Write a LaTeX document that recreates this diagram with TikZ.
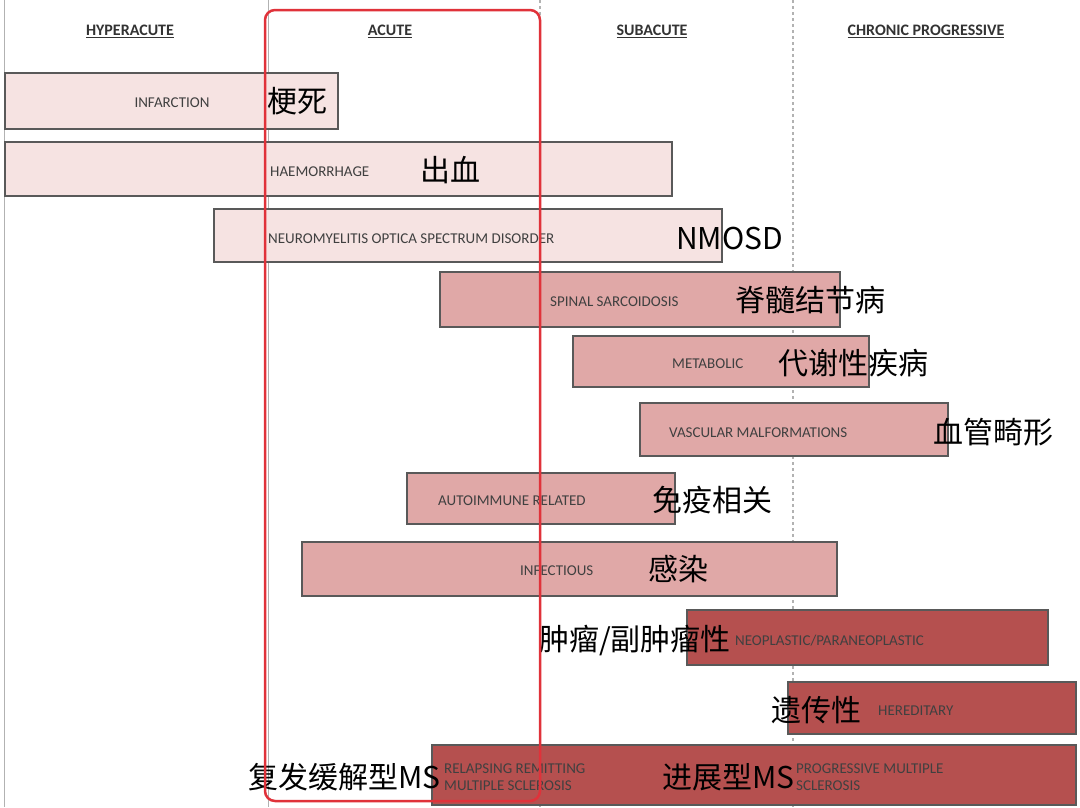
\documentclass[tikz,border=0pt]{standalone}
\usepackage{fontspec}
\setmainfont{Carlito}
\newfontfamily\cjk{Noto Sans CJK SC}
\definecolor{palebar}{HTML}{F6E3E2}
\definecolor{midbar}{HTML}{E0A8A7}
\definecolor{darkbar}{HTML}{B5504F}
\definecolor{framered}{HTML}{E0323A}

\begin{document}
\begin{tikzpicture}[x=1pt, y=-1pt]
    % --- DEFINE STYLES ---
    \tikzset{
        bar/.style={draw=black!65, line width=1.1pt},
        pale/.style={bar, fill=palebar},
        mid/.style={bar, fill=midbar},
        dark/.style={bar, fill=darkbar},
        eng/.style={font=\fontsize{15}{17}\selectfont, text=black!75, inner sep=0pt},
        zh/.style={font=\cjk\fontsize{30}{32}\selectfont, inner sep=0pt},
        phase/.style={font=\bfseries\fontsize{16}{18}\selectfont, text=black!80, inner sep=0pt}
    }
    \useasboundingbox[fill=white] (0,0) rectangle (1080,807);

    % Phase dividers
    \draw[gray!60, line width=1pt] (4,0) -- (4,807);
    \draw[gray!60, line width=1pt] (268,0) -- (268,807);
    \draw[gray!60, line width=1.5pt, dashed] (540,0) -- (540,807);
    \draw[gray!60, line width=1.5pt, dashed] (793,0) -- (793,807);

    % Phase headings
    \node[phase] (hyper) at (130,31) {\underline{HYPERACUTE}};
    \node[phase] (acute) at (390,31) {\underline{ACUTE}};
    \node[phase] (subac) at (652,31) {\underline{SUBACUTE}};
    \node[phase] (chron) at (926,31) {\underline{CHRONIC PROGRESSIVE}};

    % --- BARS ---
    \draw[pale] (5,73) rectangle (338,129);
    \node[eng] (infarct) at (172,103) {INFARCTION};
    \node[zh, anchor=west] (infarctzh) at (267,101) {梗死};

    \draw[pale] (5,142) rectangle (672,196);
    \node[eng, anchor=west] (haem) at (270,172) {HAEMORRHAGE};
    \node[zh, anchor=west] (haemzh) at (420,170) {出血};

    \draw[pale] (214,209) rectangle (722,262);
    \node[eng, anchor=west] (nmo) at (268,239) {NEUROMYELITIS OPTICA SPECTRUM DISORDER};
    \node[zh, anchor=west] (nmozh) at (676,238) {NMOSD};

    \draw[mid] (440,272) rectangle (840,327);
    \node[eng, anchor=west] (sarc) at (550,302) {SPINAL SARCOIDOSIS};
    \node[zh, anchor=west] (sarczh) at (735,300) {脊髓结节病};

    \draw[mid] (573,336) rectangle (869,387);
    \node[eng, anchor=west] (metab) at (672,364) {METABOLIC};
    \node[zh, anchor=west] (metabzh) at (778,363) {代谢性疾病};

    \draw[mid] (640,403) rectangle (948,456);
    \node[eng, anchor=west] (vasc) at (669,433) {VASCULAR MALFORMATIONS};
    \node[zh, anchor=west] (vasczh) at (933,432) {血管畸形};

    \draw[mid] (407,473) rectangle (675,524);
    \node[eng, anchor=west] (auto) at (438,501) {AUTOIMMUNE RELATED};
    \node[zh, anchor=west] (autozh) at (652,500) {免疫相关};

    \draw[mid] (302,542) rectangle (837,596);
    \node[eng, anchor=west] (infect) at (520,571) {INFECTIOUS};
    \node[zh, anchor=west] (infectzh) at (648,569) {感染};

    \draw[dark] (687,610) rectangle (1048,665);
    \node[eng, anchor=west] (neo) at (735,641) {NEOPLASTIC/PARANEOPLASTIC};
    \node[zh, anchor=east] (neozh) at (731,640) {肿瘤/副肿瘤性};

    \draw[dark] (788,682) rectangle (1076,734);
    \node[eng, anchor=west] (hered) at (878,711) {HEREDITARY};
    \node[zh, anchor=east] (heredzh) at (862,710) {遗传性};

    \draw[dark] (432,745) rectangle (1076,805);
    \node[eng, anchor=west, align=left] (rrms) at (444,777)
        {RELAPSING REMITTING\\MULTIPLE SCLEROSIS};
    \node[zh, anchor=east] (rrmszh) at (441,777) {复发缓解型MS};
    \node[eng, anchor=west, align=left] (pms) at (796,777)
        {PROGRESSIVE MULTIPLE\\SCLEROSIS};
    \node[zh, anchor=east] (pmszh) at (795,777) {进展型MS};

    % Highlight of the acute column
    \draw[framered, line width=2.5pt, rounded corners=10pt] (265,10) rectangle (540,801);
\end{tikzpicture}
\end{document}
